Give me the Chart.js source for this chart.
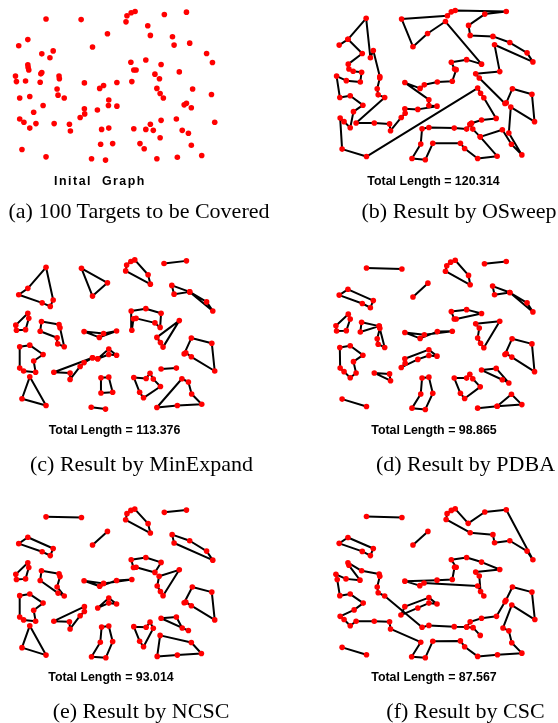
<!DOCTYPE html>
<html>
<head>
<meta charset="utf-8">
<script src="https://cdn.jsdelivr.net/npm/chart.js@4/dist/chart.umd.min.js"></script>
<style>
  html, body { margin: 0; padding: 0; background: #fff; }
  #page { position: relative; width: 558px; height: 723px; background: #fff; overflow: hidden; }
  .panel { position: absolute; width: 225px; height: 180px; }
  .panel canvas { display: block; }
  .label { position: absolute; white-space: pre; transform: translate(-50%, -50%); line-height: 1; color: #000; }
  .sub { font-family: "Liberation Sans", Arial, sans-serif; font-weight: bold; font-size: 12.4px; }
  .sub.first { letter-spacing: 1.5px; }
  .cap { font-family: "Liberation Serif", "Times New Roman", serif; font-size: 22px; }
</style>
</head>
<body>
<div id="page"></div>
<script>
// Field coordinates of the 100 targets (x to the right, y downward), flat [x, y, x, y, ...]
const initialTargets = [
  133,50, 241,52, 322,96, 77,114, 49,133, 276,137, 155,149, 120,158, 145,170, 77,192,
  78,200, 80,208, 120,216, 117,220, 39,227, 173,227, 174,235, 42,244, 70,242, 115,246,
  251,248, 310,256, 298,265, 167,267, 170,286, 189,295, 52,295, 83,290, 326,301, 325,318,
  124,318, 251,328, 291,332, 252,344, 95,339, 238,355, 52,360, 65,370, 102,374, 158,374,
  205,376, 83,388, 208,397, 304,392, 326,388, 301,438, 338,436, 59,454, 133,477, 273,483,
  316,487, 407,27, 395,31, 382,40, 379,59, 497,36, 565,29, 446,71, 454,101, 522,105,
  527,131, 575,125, 627,157, 645,185, 394,184, 440,177, 487,191, 403,208, 410,208, 468,221,
  482,235, 543,214, 397,244, 351,247, 474,265, 484,281, 494,295, 584,267, 642,284, 351,320,
  558,316, 565,311, 580,325, 403,390, 454,376, 440,392, 463,395, 487,364, 534,360, 552,395,
  571,404, 652,370, 422,436, 435,452, 484,418, 580,441, 612,473, 537,478, 474,483
];

// OSweep: open sweep routes
const osweepLoops = [];
const osweepPaths = [
  [35,131, 62,113, 118,48, 131,170, 140,148, 160,228, 160,233, 152,266, 155,285, 175,293,
   87,372, 143,372, 190,375, 193,396, 226,355, 238,342, 237,328, 277,330, 336,320, 311,318,
   311,300, 237,247, 284,265, 297,254, 337,245, 383,243, 395,207, 390,205, 380,184, 427,176,
   473,190, 362,58, 307,95, 262,136, 227,50, 368,40, 380,28, 392,24, 549,27, 483,35,
   433,70, 438,101, 508,104, 560,123, 613,155, 631,183, 513,130, 529,213, 455,220, 466,233,
   545,312, 549,310, 568,266, 628,283, 636,368, 563,323, 557,403, 597,471, 565,438, 537,393,
   469,415, 446,391, 437,376, 442,373, 473,363, 518,358, 480,294, 470,280, 461,264, 119,476,
   44,453, 38,357, 50,368, 69,387, 79,337, 108,317, 69,288, 37,293, 27,227, 57,241,
   100,245, 104,215, 78,212, 65,205, 63,190, 106,157, 62,113],
  [442,373, 427,391, 389,388, 311,386, 290,390, 286,437, 259,482, 300,486, 323,435, 408,435,
   421,451, 461,482, 521,475, 469,415]
];

// MinExpand
const minExpandLoops = [
  [133,45, 155,146, 146,166, 121,155, 49,130, 77,110],
  [242,48, 322,93, 276,134],
  [378,56, 381,38, 394,27, 406,22, 447,68, 454,97],
  [520,101, 575,121, 646,180, 627,152, 575,121, 527,128],
  [77,187, 80,203, 70,238, 42,240, 40,224],
  [119,213, 173,222, 176,232, 189,291, 169,282, 167,263, 115,243],
  [250,244, 297,262, 350,242, 310,250],
  [395,180, 440,173, 487,187, 484,231, 468,217, 410,203, 402,204, 397,240],
  [543,210, 474,262, 485,278, 493,292],
  [52,291, 83,286, 124,315, 95,335, 101,370, 64,366, 52,357],
  [580,264, 643,280, 652,366, 580,322, 563,310, 558,313],
  [83,384, 133,473, 59,452],
  [302,387, 326,385, 338,432, 302,434],
  [403,386, 441,389, 453,373, 463,391, 485,414, 433,449, 421,432],
  [474,479, 537,473, 612,469, 581,437, 571,400, 551,390]
];
const minExpandPaths = [
  [496,33, 565,25],
  [487,360, 534,357],
  [272,478, 316,484],
  [276,325, 250,340, 238,352, 207,392, 207,372, 157,370, 276,325, 292,328, 326,298, 350,317,
   326,315, 292,328]
];

// PDBA
const pdbaLoops = [
  [362,57, 366,40, 378,29, 392,23, 433,70, 438,99],
  [507,103, 560,123, 631,183, 613,155, 560,123, 513,130],
  [35,131, 62,113, 140,148, 131,170, 106,157],
  [63,190, 69,205, 57,241, 27,242, 25,226],
  [104,215, 158,227, 100,245],
  [158,227, 175,293, 155,283, 152,266, 160,234],
  [380,182, 427,176, 473,188, 395,205, 389,205],
  [455,220, 529,212, 480,294, 470,280, 461,264, 466,233],
  [237,247, 297,254, 383,243, 337,244, 284,265],
  [37,293, 69,288, 108,317, 79,337, 87,372, 69,387, 50,368, 38,357],
  [237,328, 311,300, 336,320, 311,318, 277,330, 226,355, 238,342],
  [567,266, 628,282, 636,368, 566,323, 549,312, 545,315],
  [143,372, 190,375, 193,396],
  [473,363, 518,358, 557,403, 537,393],
  [290,388, 311,385, 323,435, 300,485, 259,481, 286,437],
  [389,388, 427,388, 437,376, 446,390, 469,415, 421,451, 408,435]
];
const pdbaPaths = [
  [119,47, 228,50],
  [482,34, 549,27],
  [262,137, 308,94],
  [44,453, 119,476],
  [461,481, 521,475, 597,470, 565,438, 521,475]
];

// NCSC
const ncscLoops = [
  [378,99, 382,80, 394,70, 406,66, 447,111, 454,140],
  [521,145, 575,164, 627,196, 646,224, 527,171],
  [49,173, 77,153, 155,188, 146,210, 121,198],
  [77,232, 80,247, 70,282, 42,284, 40,268],
  [119,257, 173,266, 176,275, 167,307, 189,335, 170,326, 115,287],
  [250,288, 310,296, 397,284, 350,287, 298,305],
  [395,223, 440,216, 487,231, 468,262, 410,246, 402,247],
  [543,254, 481,274, 475,304, 485,321, 493,334],
  [52,334, 83,329, 124,357, 95,379, 101,413, 64,409, 52,400],
  [292,372, 326,341, 350,360, 326,357],
  [583,307, 643,323, 652,409, 580,365, 563,354, 558,356],
  [157,413, 251,368, 251,383, 238,396, 207,437, 205,415],
  [487,404, 534,400, 552,434, 571,442],
  [403,430, 441,432, 453,416, 463,435, 433,492, 421,475],
  [83,427, 133,518, 59,495],
  [304,431, 326,428, 338,476, 317,526, 273,523, 300,478],
  [484,457, 580,479, 611,513, 537,518, 475,522]
];
const ncscPaths = [
  [133,90, 242,92],
  [497,76, 565,69],
  [276,177, 322,135]
];

// CSC
const cscLoops = [
  [35,172, 62,154, 140,188, 131,210, 106,197],
  [364,98, 367,80, 380,70, 392,65, 432,110, 483,75, 549,68, 631,223, 613,196, 560,164,
   513,170, 508,145, 438,139],
  [380,223, 427,216, 473,230, 529,253, 455,261, 466,273, 470,321, 480,335, 461,304, 296,295,
   283,303, 237,289, 336,286, 383,284, 390,246, 395,246],
  [237,368, 311,340, 336,360, 311,357, 277,372, 225,394],
  [62,232, 104,257, 158,267, 160,274, 152,307, 155,325, 175,335, 290,432, 311,426, 389,430,
   427,431, 438,415, 473,404, 519,398, 545,353, 548,348, 568,307, 628,323, 637,408, 566,363,
   539,434, 557,443, 566,480, 597,512, 522,517, 461,522, 421,492, 408,474, 323,475, 300,526,
   258,523, 286,478, 193,437, 190,415, 143,413, 87,413, 69,427, 50,408, 38,398, 81,378,
   109,357, 69,329, 37,334, 29,284, 25,268, 56,282, 99,286, 65,240]
];
const cscPaths = [
  [119,89, 228,92],
  [262,177, 308,135],
  [44,494, 119,517],
  [427,431, 447,433, 469,457]
];

const totalLengths = [120.314, 113.376, 98.865, 93.014, 87.567];
const panelCaptions = [
  '(a) 100 Targets to be Covered',
  '(b) Result by OSweep',
  '(c) Result by MinExpand',
  '(d) Result by PDBA',
  '(e) Result by NCSC',
  '(f) Result by CSC'
];
const initialLabel = 'Inital  Graph';

// Panel layout on the page: canvas corner, label centres
const panels = [
  { left: 0,   top: 0,   loops: null,           paths: null,           sub: [100, 181],   cap: [139, 211] },
  { left: 325, top: 0,   loops: osweepLoops,    paths: osweepPaths,    sub: [433.5, 181], cap: [459, 211] },
  { left: 0,   top: 250, loops: minExpandLoops, paths: minExpandPaths, sub: [114.5, 429.5], cap: [141.5, 463.5] },
  { left: 325, top: 250, loops: pdbaLoops,      paths: pdbaPaths,      sub: [434, 429.5],  cap: [465.5, 463.5] },
  { left: 0,   top: 485, loops: ncscLoops,      paths: ncscPaths,      sub: [111, 677],    cap: [141, 710.5] },
  { left: 325, top: 485, loops: cscLoops,       paths: cscPaths,       sub: [434, 677],    cap: [465.5, 710.5] }
];

function toPoints(flat) {
  const pts = [];
  for (let i = 0; i + 1 < flat.length; i += 2) pts.push({ x: flat[i], y: flat[i + 1] });
  return pts;
}

function routeDataset(pts) {
  return {
    type: 'scatter',
    data: pts,
    showLine: true,
    borderColor: '#000000',
    borderWidth: 2,
    borderJoinStyle: 'round',
    borderCapStyle: 'round',
    pointRadius: 0,
    pointHoverRadius: 0,
    tension: 0,
    fill: false,
    clip: false,
    order: 2
  };
}

function targetDataset(pts) {
  return {
    type: 'scatter',
    data: pts,
    showLine: false,
    pointRadius: 2.8,
    pointHoverRadius: 2.8,
    pointBackgroundColor: '#ff0000',
    pointBorderColor: '#ff0000',
    pointBorderWidth: 0,
    clip: false,
    order: 1
  };
}

const page = document.getElementById('page');

panels.forEach((p, idx) => {
  const box = document.createElement('div');
  box.className = 'panel';
  box.style.left = p.left + 'px';
  box.style.top = p.top + 'px';
  const cv = document.createElement('canvas');
  cv.width = 225; cv.height = 180;
  box.appendChild(cv);
  page.appendChild(box);

  const datasets = [];
  let targets = [];
  if (p.loops === null) {
    targets = toPoints(initialTargets);
  } else {
    p.loops.forEach(l => {
      const pts = toPoints(l);
      targets = targets.concat(pts);
      datasets.push(routeDataset(pts.concat([pts[0]])));
    });
    p.paths.forEach(l => {
      const pts = toPoints(l);
      targets = targets.concat(pts);
      datasets.push(routeDataset(pts));
    });
  }
  datasets.push(targetDataset(targets));

  new Chart(cv, {
    type: 'scatter',
    data: { datasets },
    options: {
      responsive: false,
      animation: false,
      devicePixelRatio: 1,
      layout: { padding: 0 },
      plugins: { legend: { display: false }, tooltip: { enabled: false } },
      events: [],
      scales: {
        x: { type: 'linear', display: false, min: 0, max: 675 },
        y: { type: 'linear', display: false, min: 0, max: 540, reverse: true }
      }
    }
  });

  const sub = document.createElement('div');
  sub.className = idx === 0 ? 'label sub first' : 'label sub';
  sub.textContent = idx === 0 ? initialLabel : 'Total Length = ' + totalLengths[idx - 1].toFixed(3);
  sub.style.left = p.sub[0] + 'px';
  sub.style.top = p.sub[1] + 'px';
  page.appendChild(sub);

  const cap = document.createElement('div');
  cap.className = 'label cap';
  cap.textContent = panelCaptions[idx];
  cap.style.left = p.cap[0] + 'px';
  cap.style.top = p.cap[1] + 'px';
  page.appendChild(cap);
});
</script>
</body>
</html>
